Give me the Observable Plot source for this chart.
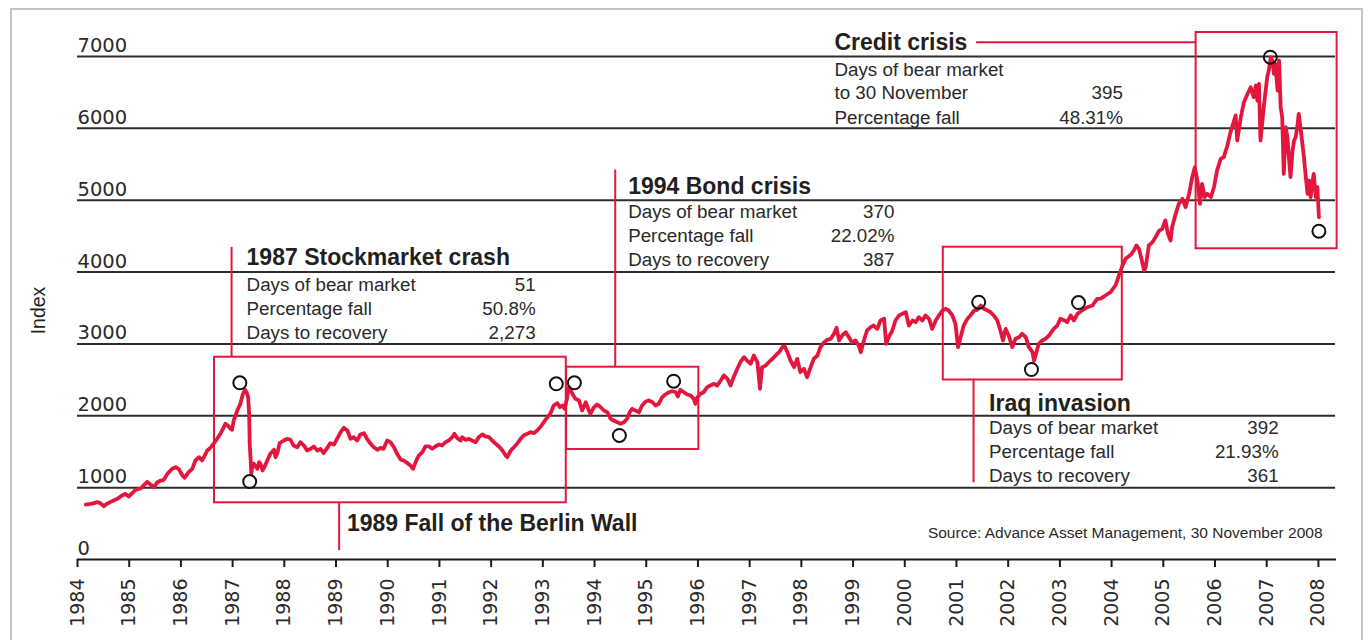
<!DOCTYPE html>
<html><head><meta charset="utf-8">
<script src="https://cdn.jsdelivr.net/npm/d3@7"></script>
<script src="https://cdn.jsdelivr.net/npm/@observablehq/plot@0.6"></script>
<style>
html,body{margin:0;padding:0;background:#fff;}
#wrap{position:relative;width:1372px;height:640px;overflow:hidden;}
#frame{position:absolute;left:10px;top:8px;width:1353px;height:700px;border:2px solid #c6c6c6;box-sizing:border-box;pointer-events:none;}
</style></head><body>
<div id="wrap"><div id="chart"></div><div id="frame"></div></div>
<script>
// ---- Index series (year as decimal on the printed axis, index level) ----
const lineYears = [
1984.16,1984.25,1984.32,1984.38,1984.44,1984.51,1984.57,1984.67,1984.77,1984.86,1984.93,1984.99,
1985.06,1985.12,1985.22,1985.28,1985.35,1985.41,1985.48,1985.54,1985.61,1985.67,1985.74,1985.83,1985.90,1985.96,
1986.03,1986.07,1986.15,1986.22,1986.28,1986.35,1986.41,1986.46,1986.51,1986.57,1986.64,1986.70,1986.77,1986.83,1986.86,1986.91,1986.96,1986.99,
1987.02,1987.09,1987.15,1987.20,1987.24,1987.27,1987.30,1987.32,1987.33,1987.35,1987.36,1987.38,1987.41,1987.48,1987.51,1987.54,1987.58,1987.62,1987.67,1987.73,1987.80,1987.83,1987.87,1987.91,1987.99,
1988.06,1988.12,1988.18,1988.25,1988.31,1988.38,1988.44,1988.51,1988.57,1988.64,1988.70,1988.76,1988.83,1988.89,1988.96,
1989.02,1989.09,1989.15,1989.22,1989.28,1989.34,1989.41,1989.47,1989.54,1989.60,1989.67,1989.73,1989.80,1989.86,1989.92,1989.99,
1990.05,1990.12,1990.18,1990.25,1990.31,1990.38,1990.44,1990.49,1990.54,1990.60,1990.67,1990.73,1990.80,1990.86,1990.92,1990.99,
1991.05,1991.12,1991.18,1991.25,1991.29,1991.34,1991.41,1991.44,1991.51,1991.57,1991.63,1991.70,1991.76,1991.83,1991.89,1991.96,
1992.02,1992.09,1992.15,1992.21,1992.28,1992.31,1992.38,1992.44,1992.51,1992.57,1992.63,1992.70,1992.76,1992.83,1992.89,1992.96,
1993.02,1993.09,1993.15,1993.21,1993.28,1993.33,1993.38,1993.42,1993.46,1993.49,1993.51,1993.54,1993.59,1993.63,1993.70,1993.76,1993.83,1993.89,1993.92,1993.99,
1994.05,1994.12,1994.18,1994.25,1994.31,1994.37,1994.44,1994.50,1994.57,1994.63,1994.68,1994.73,1994.79,1994.86,1994.92,1994.99,
1995.05,1995.12,1995.18,1995.24,1995.31,1995.37,1995.44,1995.50,1995.57,1995.61,1995.66,1995.73,1995.79,1995.86,1995.92,1995.95,1995.99,
1996.05,1996.11,1996.18,1996.24,1996.31,1996.37,1996.44,1996.50,1996.57,1996.63,1996.69,1996.76,1996.82,1996.89,1996.95,
1997.02,1997.08,1997.15,1997.20,1997.24,1997.31,1997.37,1997.44,1997.50,1997.57,1997.63,1997.68,1997.73,1997.79,1997.86,1997.92,1997.98,
1998.05,1998.11,1998.18,1998.24,1998.31,1998.37,1998.44,1998.50,1998.57,1998.63,1998.68,1998.73,1998.79,1998.86,1998.92,1998.98,
1999.05,1999.11,1999.15,1999.21,1999.27,1999.34,1999.40,1999.47,1999.53,1999.60,1999.64,1999.69,1999.76,1999.82,1999.89,1999.95,
2000.02,2000.08,2000.15,2000.21,2000.27,2000.34,2000.40,2000.47,2000.53,2000.60,2000.66,2000.73,2000.79,2000.85,2000.92,2000.98,
2001.03,2001.08,2001.14,2001.21,2001.27,2001.34,2001.40,2001.47,2001.53,2001.60,2001.66,2001.72,2001.79,2001.85,2001.90,2001.95,
2002.01,2002.08,2002.14,2002.21,2002.27,2002.34,2002.40,2002.47,2002.50,2002.53,2002.59,2002.66,2002.72,2002.79,2002.88,2002.95,
2003.01,2003.08,2003.14,2003.21,2003.27,2003.34,2003.43,2003.53,2003.63,2003.72,2003.79,2003.88,2003.98,
2004.08,2004.14,2004.21,2004.27,2004.37,2004.43,2004.48,2004.53,2004.57,2004.63,2004.66,2004.72,2004.79,2004.85,2004.92,2004.98,
2005.04,2005.09,2005.14,2005.17,2005.24,2005.30,2005.37,2005.43,2005.50,2005.56,2005.61,2005.66,2005.71,2005.75,2005.80,2005.85,2005.92,2005.98,
2006.04,2006.11,2006.17,2006.24,2006.30,2006.37,2006.40,2006.43,2006.50,2006.56,2006.63,2006.69,2006.75,2006.79,2006.82,2006.85,2006.88,2006.95,
2007.01,2007.04,2007.08,2007.11,2007.14,2007.17,2007.21,2007.24,2007.27,2007.30,2007.33,2007.37,2007.40,2007.43,2007.46,2007.50,2007.53,2007.56,2007.59,2007.62,2007.66,2007.69,2007.72,2007.75,2007.79,2007.82,2007.85,2007.88,2007.91,2007.95,2007.98,
2008.01];
const lineValues = [
765,775,784,798,784,742,775,812,844,891,914,877,
923,970,988,1030,1081,1044,1006,1072,1099,1109,1193,1262,1285,1257,
1169,1137,1215,1262,1378,1424,1378,1447,1517,1554,1619,1680,1758,1841,1888,1860,1819,1805,
1934,2073,2167,2306,2362,2328,2259,2028,1610,1378,1193,1285,1332,1262,1354,1332,1239,1294,1378,1471,1527,1424,1493,1619,1656,
1680,1666,1586,1563,1633,1586,1517,1540,1573,1517,1540,1480,1554,1619,1600,
1680,1772,1832,1795,1680,1702,1656,1740,1758,1680,1610,1563,1527,1554,1540,1656,
1633,1563,1471,1390,1378,1341,1308,1262,1355,1447,1494,1573,1573,1540,1573,1600,
1587,1633,1656,1702,1749,1693,1656,1702,1665,1679,1656,1633,1702,1740,1712,1702,
1656,1610,1573,1526,1447,1424,1517,1563,1619,1679,1726,1749,1772,1758,1795,1851,
1911,1981,2036,2143,2175,2120,2143,2097,2213,2352,2398,2352,2282,2236,2213,2073,2189,2073,2028,2120,
2157,2120,2073,2050,1958,1934,1911,1888,1911,1958,2050,2097,2073,2050,2143,2199,
2213,2189,2143,2166,2259,2296,2328,2342,2328,2268,2362,2328,2296,2282,2236,2166,2259,
2306,2328,2398,2421,2445,2421,2491,2561,2515,2421,2537,2653,2746,2816,2769,
2723,2839,2746,2375,2676,2700,2746,2792,2839,2885,2955,2964,2885,2769,2676,2792,2607,
2653,2537,2676,2792,2839,2955,3024,3057,3071,3141,3224,3048,3117,3163,3094,3024,
3048,2978,2885,3048,3187,3233,3256,3210,3326,3350,3001,3094,3187,3326,3396,3419,
3441,3256,3326,3303,3372,3326,3396,3350,3210,3326,3396,3465,3489,3465,3396,3280,
2955,3094,3256,3350,3396,3465,3475,3535,3489,3465,3441,3396,3326,3187,3048,3210,
3117,2955,3071,3094,3141,3094,2955,2885,2769,2839,3001,3048,3071,3117,3210,3256,
3350,3330,3303,3396,3326,3419,3465,3511,3535,3628,3630,3674,3720,
3820,3950,4090,4184,4240,4300,4370,4323,4207,4022,4068,4370,4416,4485,4578,4602,
4718,4532,4439,4625,4810,4950,5019,4903,5089,5321,5460,5274,4950,5228,5042,5089,5042,5181,
5413,5576,5599,5761,5947,6109,6179,5831,6155,6364,6481,6573,6433,6596,6387,6620,5831,6341,
6712,6805,6990,6944,6759,6898,6527,6944,6294,6155,5367,6016,5877,5599,5321,5692,5831,5877,6016,6202,5970,5785,5599,5367,5089,5274,5042,5228,5367,5042,5181,
4763];

// ---- Axes ----
const gridValues = [1000, 2000, 3000, 4000, 5000, 6000, 7000];
const yLabelValues = [0, 1000, 2000, 3000, 4000, 5000, 6000, 7000];
const tickYears = d3.range(1984, 2009);

// ---- Turning points (open circles) ----
const circleYears  = [1987.14, 1987.33, 1993.26, 1993.61, 1994.48, 1995.53, 2001.43, 2002.45, 2003.36, 2007.07, 2008.01];
const circleValues = [2459, 1085, 2445, 2459, 1726, 2481, 3581, 2644, 3576, 6990, 4569];

// ---- Highlight boxes ----
const boxStart = [1986.65, 1993.46, 2000.745, 2005.635];
const boxEnd   = [1993.453, 1996.017, 2004.207, 2008.362];
const boxLow   = [789, 1531, 2498, 4324];
const boxHigh  = [2815, 2676, 4346, 7334];

// ---- Leader lines ----
const leaderYears = [1986.98, 1994.40, 2001.33, 1989.06];
const leaderLow   = [2815, 2676, 1067, 125];
const leaderHigh  = [4342, 5420, 2498, 789];
const creditLeader = {value: 7199, from: 2001.39, to: 2005.635};

// ---- Annotation text ----
const titleText  = ["1987 Stockmarket crash", "1994 Bond crisis", "Iraq invasion", "Credit crisis", "1989 Fall of the Berlin Wall"];
const titleYears = [1987.27, 1994.65, 2001.63, 1998.64, 1989.21];
const titleVals  = [4203, 5191, 2175, 7195, 497];

const rowLabels = ["Days of bear market", "Percentage fall", "Days to recovery",
                   "Days of bear market", "Percentage fall", "Days to recovery",
                   "Days of bear market", "Percentage fall", "Days to recovery",
                   "Days of bear market", "to 30 November", "Percentage fall"];
const rowNumbers = ["51", "50.8%", "2,273", "370", "22.02%", "387", "392", "21.93%", "361", "", "395", "48.31%"];
const rowStart = [1987.27,1987.27,1987.27, 1994.65,1994.65,1994.65, 2001.63,2001.63,2001.63, 1998.64,1998.64,1998.64];
const rowEnd   = [1992.86,1992.86,1992.86, 1999.80,1999.80,1999.80, 2007.23,2007.23,2007.23, 2004.22,2004.22,2004.22];
const rowVals  = [3827,3493,3159, 4836,4502,4168, 1833,1493,1159, 6819,6489,6151];

const sourceText = "Source: Advance Asset Management, 30 November 2008";

// ---- Build tables ----
const series = lineYears.map((x, i) => ({x, v: lineValues[i]}));
const circles = circleYears.map((x, i) => ({x, v: circleValues[i]}));
const boxes = boxStart.map((x1, i) => ({x1, x2: boxEnd[i], y1: boxLow[i], y2: boxHigh[i]}));
const leaders = leaderYears.map((x, i) => ({x, y1: leaderLow[i], y2: leaderHigh[i]}));
const titles = titleText.map((t, i) => ({t, x: titleYears[i], v: titleVals[i]}));
const rows = rowLabels.map((t, i) => ({t, n: rowNumbers[i], x1: rowStart[i], x2: rowEnd[i], v: rowVals[i]}));

const RED = "#e3173e";
const INK = "#231f20";
const SANS = "Liberation Sans, Arial, sans-serif";

const chart = Plot.plot({
  width: 1372, height: 640,
  marginLeft: 77, marginRight: 36, marginTop: 56, marginBottom: 81,
  x: {domain: [1984, 2008.35], axis: null},
  y: {domain: [0, 7000], axis: null},
  style: {background: "transparent", fontFamily: SANS, color: INK},
  marks: [
    Plot.ruleY(gridValues, {y: d => d, x1: 1984, x2: 2008.33, stroke: "#2e2e2e", strokeWidth: 2}),
    Plot.ruleY([0], {y: d => d, x1: 1984, x2: 2008.35, stroke: "#1a1a1a", strokeWidth: 2}),
    Plot.axisX(tickYears, {tickSize: 8, tickPadding: 11, tickRotate: -90, tickFormat: d => String(d),
      fontSize: 19, fontFamily: "DejaVu Sans", stroke: "#1a1a1a", strokeWidth: 2, fill: "#2a2a2a"}),
    Plot.text(yLabelValues, {x: 1984, y: d => d, text: d => String(d), textAnchor: "start", lineAnchor: "bottom",
      dy: -4.5, fontSize: 19.5, fontFamily: "DejaVu Sans", fill: "#2a2a2a"}),
    Plot.text(["Index"], {x: 1983.25, y: 3465, text: d => d, rotate: -90, fontSize: 19.5, fontFamily: SANS, fill: INK}),
    Plot.rect(boxes, {x1: "x1", x2: "x2", y1: "y1", y2: "y2", fill: "none", stroke: RED, strokeWidth: 2}),
    Plot.ruleX(leaders, {x: "x", y1: "y1", y2: "y2", stroke: RED, strokeWidth: 2}),
    Plot.ruleY([creditLeader], {y: "value", x1: "from", x2: "to", stroke: RED, strokeWidth: 2}),
    Plot.line(series, {x: "x", y: "v", stroke: RED, strokeWidth: 3.8, strokeLinejoin: "round", strokeLinecap: "round"}),
    Plot.dot(circles, {x: "x", y: "v", r: 6.5, stroke: "#111", strokeWidth: 2, fill: "none"}),
    Plot.text(titles, {x: "x", y: "v", text: "t", textAnchor: "start", lineAnchor: "middle",
      fontSize: 23, fontWeight: "bold", fontFamily: SANS, fill: INK}),
    Plot.text(rows, {x: "x1", y: "v", text: "t", textAnchor: "start", lineAnchor: "middle",
      fontSize: 18.8, fontFamily: SANS, fill: "#2a2a2a"}),
    Plot.text(rows, {x: "x2", y: "v", text: "n", textAnchor: "end", lineAnchor: "middle",
      fontSize: 18.8, fontFamily: SANS, fill: "#2a2a2a"}),
    Plot.text([sourceText], {x: 2008.08, y: 362, text: d => d, textAnchor: "end", lineAnchor: "middle",
      fontSize: 15.5, fontFamily: SANS, fill: "#2a2a2a"})
  ]
});
document.getElementById("chart").appendChild(chart);
</script></body></html>
